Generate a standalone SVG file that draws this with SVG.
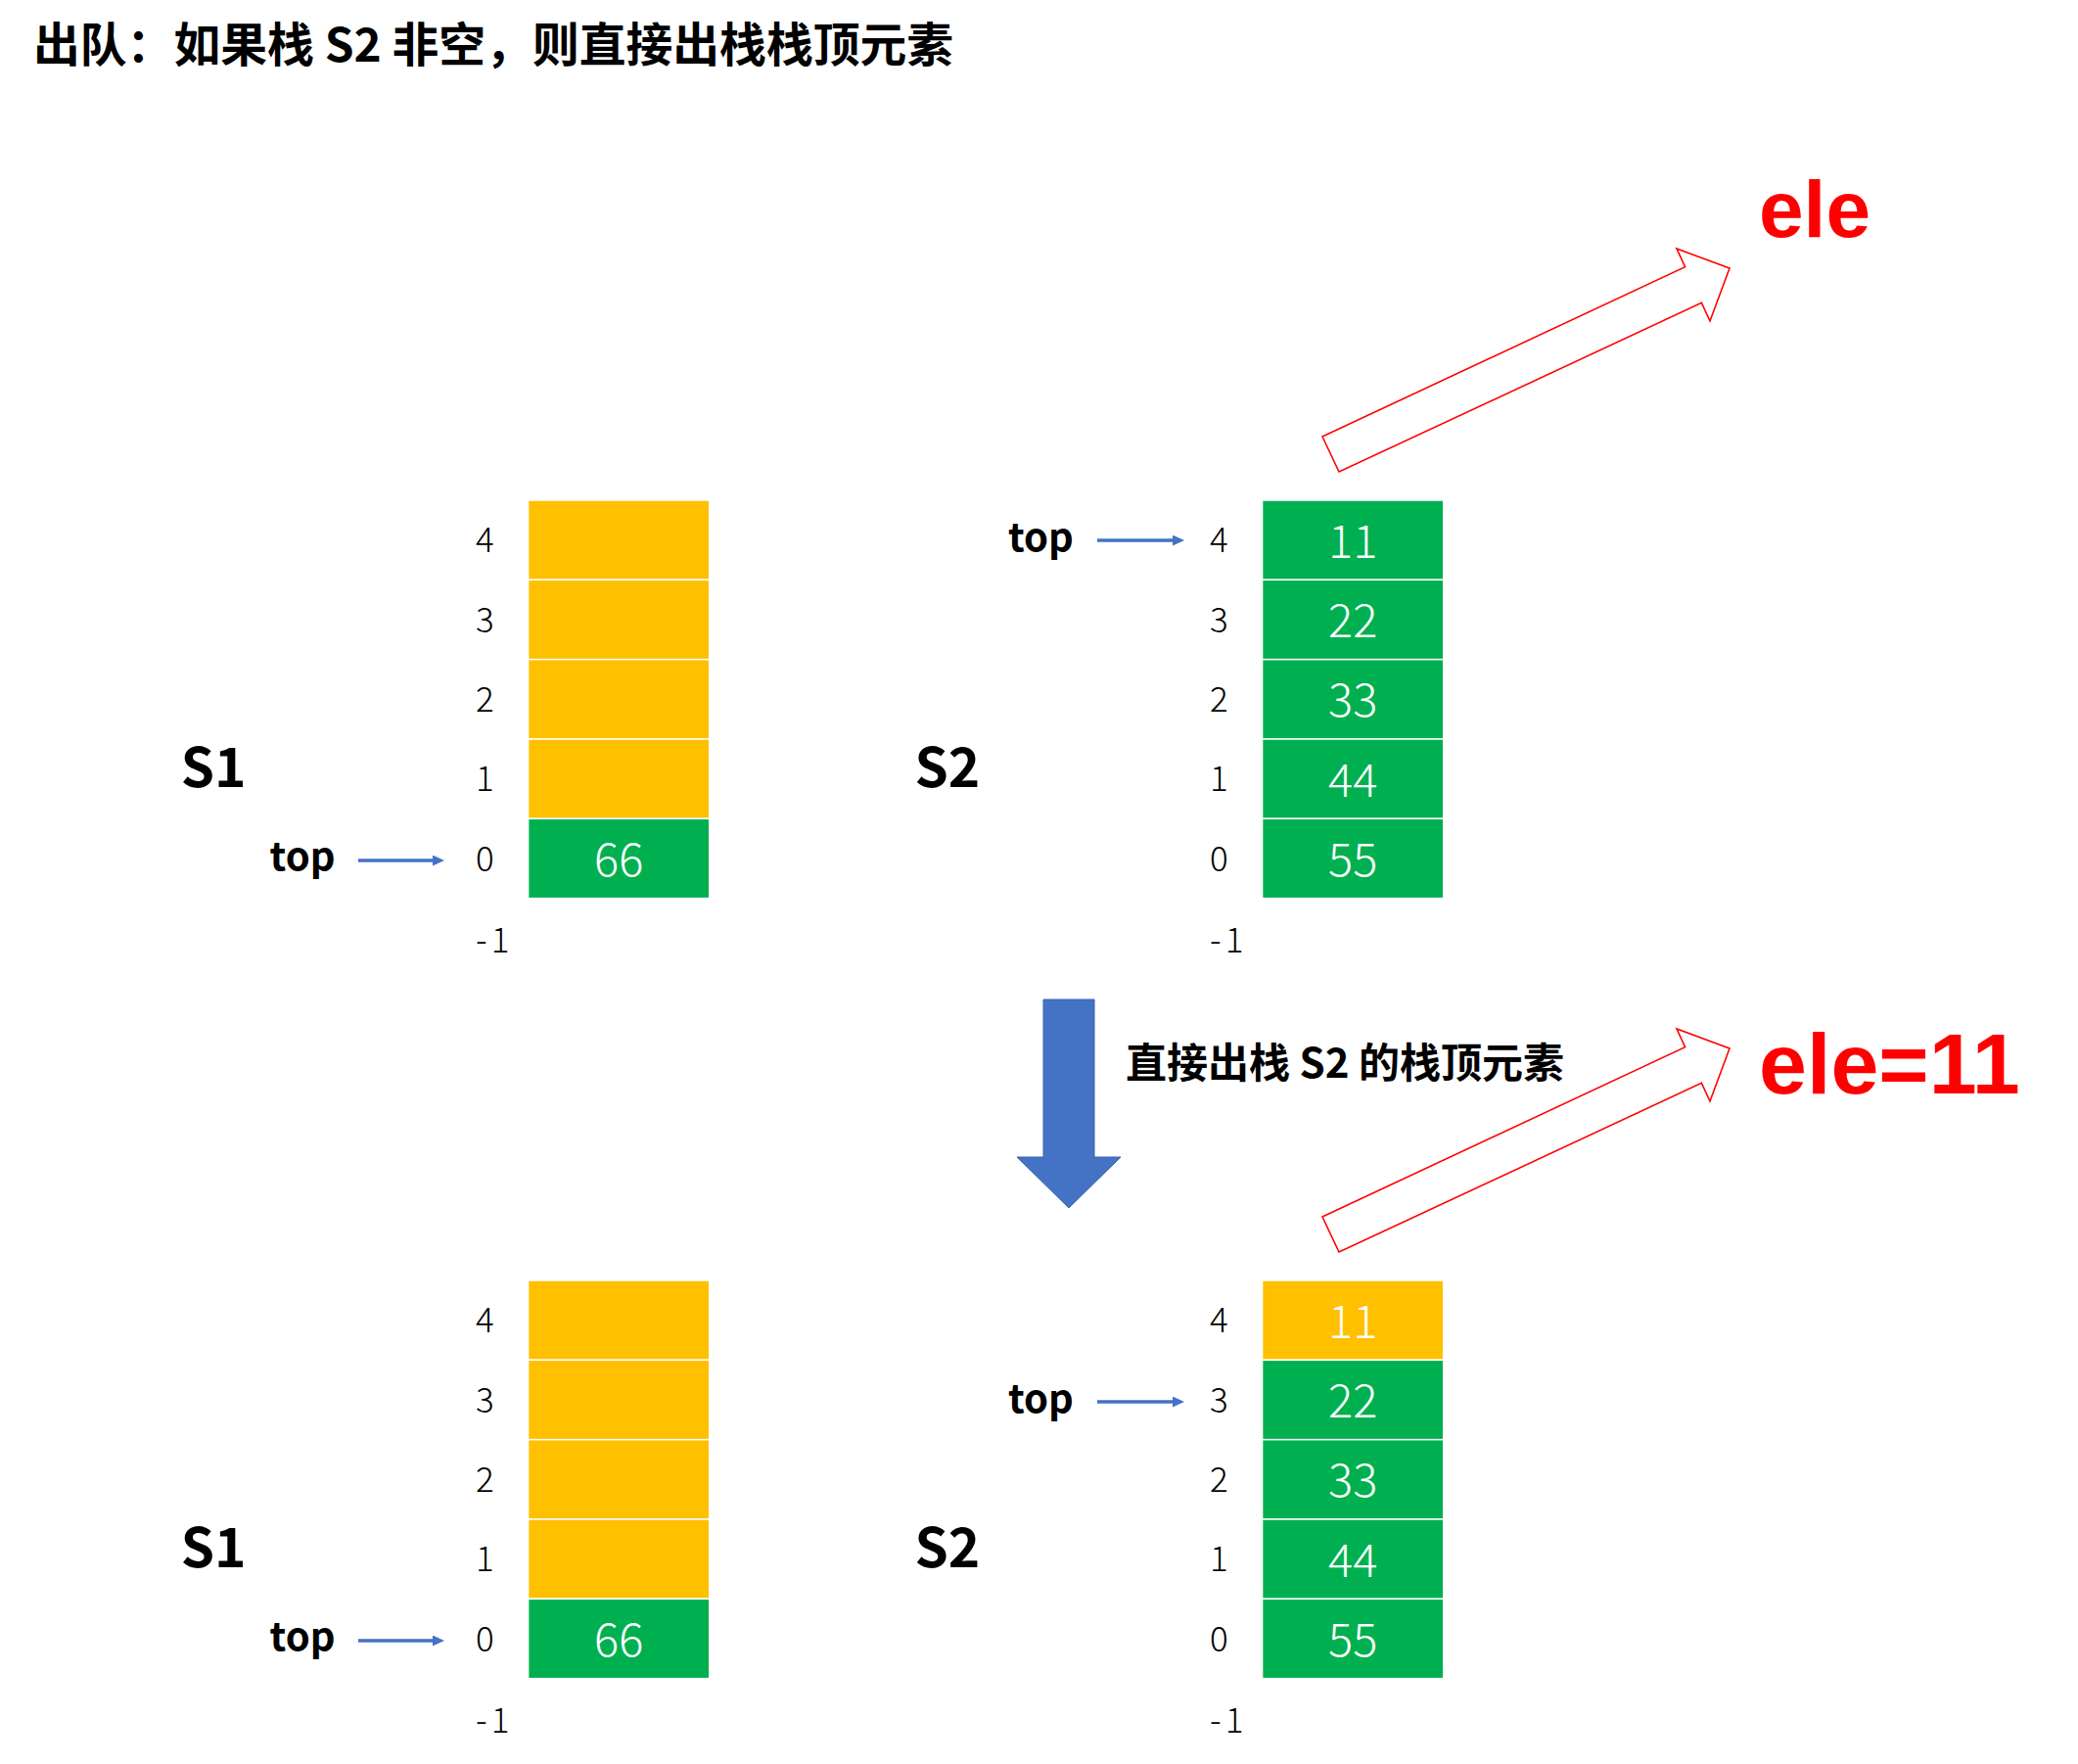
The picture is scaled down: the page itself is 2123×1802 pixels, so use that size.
<svg xmlns="http://www.w3.org/2000/svg" width="2123" height="1802" viewBox="0 0 2123 1802">
<defs>
<style>
.cjk{font-family:"Noto Sans CJK SC","Noto Sans",sans-serif;font-weight:bold;fill:#000}
.idx{font-family:"Noto Sans CJK SC","Noto Sans",sans-serif;font-weight:300;font-size:35px;fill:#000}
.neg{letter-spacing:4px}
.val{font-family:"Noto Sans CJK SC","Noto Sans",sans-serif;font-weight:300;font-size:47px;fill:#fff;text-anchor:middle}
.sname{font-family:"Noto Sans CJK SC","Noto Sans",sans-serif;font-weight:bold;font-size:55px;fill:#000}
.top{font-family:"Noto Sans CJK SC","Noto Sans",sans-serif;font-weight:bold;font-size:40px;fill:#000}
.y{fill:#FFC000;stroke:#fff;stroke-width:1.5}
.g{fill:#00B050;stroke:#fff;stroke-width:1.5}
.ptr{stroke:#4472C4;stroke-width:3.5;fill:none}
.hollow{fill:#fff;stroke:#FF0000;stroke-width:1.6}
.ele{font-family:"Liberation Sans",Arial,sans-serif;font-weight:bold;fill:#FF0000}
</style>
<marker id="ah" markerUnits="userSpaceOnUse" markerWidth="12" markerHeight="11" refX="0" refY="5.5" orient="auto">
<path d="M0,0 L12,5.5 L0,11 z" fill="#4472C4"/>
</marker>
</defs>
<rect width="2123" height="1802" fill="#fff"/>
<text id="title" class="cjk" x="34" y="63" font-size="47.8">出队：如果栈 S2 非空，则直接出栈栈顶元素</text>

<g id="s1-top" transform="translate(539.6,511)">
<rect class="y" x="0" y="0" width="185.2" height="81.33"/>
<rect class="y" x="0" y="81.33" width="185.2" height="81.33"/>
<rect class="y" x="0" y="162.67" width="185.2" height="81.33"/>
<rect class="y" x="0" y="244" width="185.2" height="81.33"/>
<rect class="g" x="0" y="325.33" width="185.2" height="81.33"/>
<text class="val" x="92.6" y="384">66</text>
<text class="idx" x="-53.6" y="53.2">4</text>
<text class="idx" x="-53.6" y="134.5">3</text>
<text class="idx" x="-53.6" y="215.8">2</text>
<text class="idx" x="-53.6" y="297.2">1</text>
<text class="idx" x="-53.6" y="378.5">0</text>
<text class="idx neg" x="-53.6" y="461.7">-1</text>
</g>
<text id="s1-top-label" class="sname" x="184.8" y="804">S1</text>
<text id="s1-top-ptr" class="top" x="275.6" y="889">top</text>

<g id="s2-top" transform="translate(1289.6,511)">
<rect class="g" x="0" y="0" width="185.2" height="81.33"/>
<rect class="g" x="0" y="81.33" width="185.2" height="81.33"/>
<rect class="g" x="0" y="162.67" width="185.2" height="81.33"/>
<rect class="g" x="0" y="244" width="185.2" height="81.33"/>
<rect class="g" x="0" y="325.33" width="185.2" height="81.33"/>
<text class="val" x="92.6" y="58.7">11</text>
<text class="val" x="92.6" y="140">22</text>
<text class="val" x="92.6" y="221.3">33</text>
<text class="val" x="92.6" y="302.7">44</text>
<text class="val" x="92.6" y="384">55</text>
<text class="idx" x="-53.6" y="53.2">4</text>
<text class="idx" x="-53.6" y="134.5">3</text>
<text class="idx" x="-53.6" y="215.8">2</text>
<text class="idx" x="-53.6" y="297.2">1</text>
<text class="idx" x="-53.6" y="378.5">0</text>
<text class="idx neg" x="-53.6" y="461.7">-1</text>
</g>
<text id="s2-top-label" class="sname" x="934.4" y="804">S2</text>
<text id="s2-top-ptr" class="top" x="1030" y="563">top</text>
<text id="ele-top" class="ele" x="1797" y="242" font-size="82">ele</text>

<g id="s1-bot" transform="translate(539.6,1308)">
<rect class="y" x="0" y="0" width="185.2" height="81.33"/>
<rect class="y" x="0" y="81.33" width="185.2" height="81.33"/>
<rect class="y" x="0" y="162.67" width="185.2" height="81.33"/>
<rect class="y" x="0" y="244" width="185.2" height="81.33"/>
<rect class="g" x="0" y="325.33" width="185.2" height="81.33"/>
<text class="val" x="92.6" y="384">66</text>
<text class="idx" x="-53.6" y="53.2">4</text>
<text class="idx" x="-53.6" y="134.5">3</text>
<text class="idx" x="-53.6" y="215.8">2</text>
<text class="idx" x="-53.6" y="297.2">1</text>
<text class="idx" x="-53.6" y="378.5">0</text>
<text class="idx neg" x="-53.6" y="461.7">-1</text>
</g>
<text id="s1-bot-label" class="sname" x="184.8" y="1601">S1</text>
<text id="s1-bot-ptr" class="top" x="275.6" y="1686">top</text>

<g id="s2-bot" transform="translate(1289.6,1308)">
<rect class="y" x="0" y="0" width="185.2" height="81.33"/>
<rect class="g" x="0" y="81.33" width="185.2" height="81.33"/>
<rect class="g" x="0" y="162.67" width="185.2" height="81.33"/>
<rect class="g" x="0" y="244" width="185.2" height="81.33"/>
<rect class="g" x="0" y="325.33" width="185.2" height="81.33"/>
<text class="val" x="92.6" y="58.7">11</text>
<text class="val" x="92.6" y="140">22</text>
<text class="val" x="92.6" y="221.3">33</text>
<text class="val" x="92.6" y="302.7">44</text>
<text class="val" x="92.6" y="384">55</text>
<text class="idx" x="-53.6" y="53.2">4</text>
<text class="idx" x="-53.6" y="134.5">3</text>
<text class="idx" x="-53.6" y="215.8">2</text>
<text class="idx" x="-53.6" y="297.2">1</text>
<text class="idx" x="-53.6" y="378.5">0</text>
<text class="idx neg" x="-53.6" y="461.7">-1</text>
</g>
<text id="s2-bot-label" class="sname" x="934.4" y="1601">S2</text>
<text id="s2-bot-ptr" class="top" x="1030" y="1443">top</text>
<text id="ele-bot" class="ele" x="1797" y="1117" font-size="88">ele=11</text>

<text id="step-label" class="cjk" x="1150" y="1101" font-size="42">直接出栈 S2 的栈顶元素</text>

<g id="connectors">
<line class="ptr" x1="366" y1="879" x2="442" y2="879" marker-end="url(#ah)"/>
<line class="ptr" x1="1121" y1="552" x2="1198" y2="552" marker-end="url(#ah)"/>
<line class="ptr" x1="366" y1="1676" x2="442" y2="1676" marker-end="url(#ah)"/>
<line class="ptr" x1="1121" y1="1432" x2="1198" y2="1432" marker-end="url(#ah)"/>
<polygon class="hollow" points="1351,446 1721.6,272.7 1713,254 1767,274 1747,328 1738.4,309.3 1368,482"/>
<polygon class="hollow" transform="translate(0,797)" points="1351,446 1721.6,272.7 1713,254 1767,274 1747,328 1738.4,309.3 1368,482"/>
<polygon points="1066,1021 1118,1021 1118,1182 1145,1182 1092,1234 1039,1182 1066,1182" fill="#4472C4" stroke="#3B63AD" stroke-width="1"/>
</g>
</svg>
